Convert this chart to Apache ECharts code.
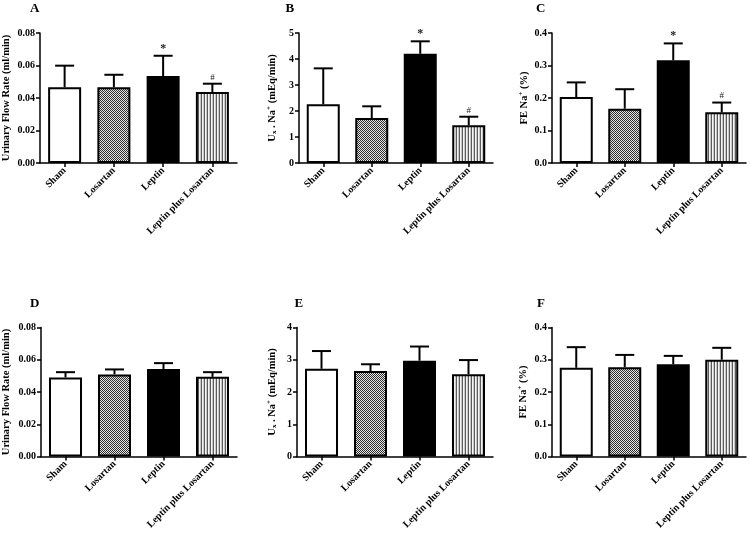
<!DOCTYPE html>
<html>
<head>
<meta charset="utf-8">
<script src="https://cdn.jsdelivr.net/npm/echarts@6/dist/echarts.min.js"></script>
<style>html,body{margin:0;padding:0;background:#fff;}#chart{width:750px;height:539px;}</style>
</head>
<body>
<div id="chart"></div>
<script>
// ---- data ----
const categories = ['Sham', 'Losartan', 'Leptin', 'Leptin plus Losartan'];
const panelLetters = ['A', 'B', 'C', 'D', 'E', 'F'];

const meanA = [0.0466, 0.0466, 0.0535, 0.0437];
const semA  = [0.0133, 0.0077, 0.0125, 0.0051];
const markA = ['', '', '*', '#'];

const meanB = [2.26, 1.73, 4.20, 1.45];
const semB  = [1.38, 0.45, 0.48, 0.33];
const markB = ['', '', '*', '#'];

const meanC = [0.203, 0.167, 0.316, 0.156];
const semC  = [0.045, 0.060, 0.052, 0.030];
const markC = ['', '', '*', '#'];

const meanD = [0.0490, 0.0509, 0.0543, 0.0494];
const semD  = [0.0033, 0.0031, 0.0036, 0.0029];
const markD = ['', '', '', ''];

const meanE = [2.72, 2.65, 2.97, 2.55];
const semE  = [0.55, 0.21, 0.44, 0.44];
const markE = ['', '', '', ''];

const meanF = [0.275, 0.277, 0.286, 0.300];
const semF  = [0.064, 0.038, 0.026, 0.037];
const markF = ['', '', '', ''];

const yMax      = [0.08, 5, 0.4, 0.08, 4, 0.4];
const yInterval = [0.02, 1, 0.1, 0.02, 1, 0.1];
const yDecimals = [2, 0, 1, 2, 0, 1];
const yNames = [
  'Urinary Flow Rate (ml/min)',
  'U{sub|x} . Na{sup|+} (mEq/min)',
  'FE Na{sup|+} (%)',
  'Urinary Flow Rate (ml/min)',
  'U{sub|x} . Na{sup|+} (mEq/min)',
  'FE Na{sup|+} (%)'
];

const means = [meanA, meanB, meanC, meanD, meanE, meanF];
const sems  = [semA, semB, semC, semD, semE, semF];
const marks = [markA, markB, markC, markD, markE, markF];

// ---- layout ----
const grids = [
  {left: 40,  top: 33,  width: 197, height: 130},
  {left: 299, top: 33,  width: 194, height: 130},
  {left: 552, top: 33,  width: 194, height: 130},
  {left: 40,  top: 327.5, width: 197, height: 129},
  {left: 297, top: 327.5, width: 196, height: 129},
  {left: 552, top: 327.5, width: 194, height: 129}
];
const nameGaps = [28, 21, 22, 29, 19, 23];
const letterPos = [[30, 2], [285.5, 2], [536, 2], [30, 297], [294.5, 297], [537, 297]];

const FONT = "'Liberation Serif', 'Times New Roman', serif";

function makePattern(kind) {
  const c = document.createElement('canvas');
  if (kind === 'checker') {
    c.width = 2; c.height = 2;
    const g = c.getContext('2d');
    g.fillStyle = '#e6e6e6'; g.fillRect(0, 0, 2, 2);
    g.fillStyle = '#2e2e2e'; g.fillRect(0, 0, 1, 1); g.fillRect(1, 1, 1, 1);
  } else {
    c.width = 3; c.height = 3;
    const g = c.getContext('2d');
    g.fillStyle = '#f4f4f4'; g.fillRect(0, 0, 3, 3);
    g.fillStyle = '#5a5a5a'; g.fillRect(0, 0, 1, 3);
    g.fillStyle = '#c8c8c8'; g.fillRect(2, 0, 1, 3);
  }
  return {image: c, repeat: 'repeat'};
}
const fills = ['#ffffff', makePattern('checker'), '#000000', makePattern('stripes')];

const title = [], gridOpt = [], xAxis = [], yAxis = [], series = [];
for (let i = 0; i < 6; i++) {
  title.push({
    text: panelLetters[i], left: letterPos[i][0], top: letterPos[i][1], padding: 0,
    textStyle: {fontFamily: FONT, fontWeight: 'bold', fontSize: 13, color: '#000'}
  });
  gridOpt.push(Object.assign({containLabel: false}, grids[i]));
  xAxis.push({
    type: 'category', gridIndex: i, data: categories,
    axisLine: {lineStyle: {color: '#000', width: 1.5}},
    axisTick: {show: true, alignWithLabel: true, length: 4, lineStyle: {color: '#000', width: 1.5}},
    axisLabel: {rotate: 45, interval: 0, margin: 6, color: '#000', fontFamily: FONT, fontWeight: 'bold', fontSize: 10}
  });
  const dec = yDecimals[i];
  yAxis.push({
    type: 'value', gridIndex: i, min: 0, max: yMax[i], interval: yInterval[i],
    splitLine: {show: false},
    axisLine: {show: true, lineStyle: {color: '#000', width: 1.5}},
    axisTick: {show: true, length: 4, lineStyle: {color: '#000', width: 1.5}},
    axisLabel: {margin: 5, color: '#000', fontFamily: FONT, fontWeight: 'bold', fontSize: 10,
      formatter: v => v.toFixed(dec)},
    name: yNames[i], nameLocation: 'middle', nameGap: nameGaps[i],
    nameTextStyle: {
      color: '#000', fontFamily: FONT, fontWeight: 'bold', fontSize: 10.5,
      rich: {
        sub: {fontFamily: FONT, fontWeight: 'bold', fontSize: 7, verticalAlign: 'bottom', padding: [4, 0, 0, 0], color: '#000'},
        sup: {fontFamily: FONT, fontWeight: 'bold', fontSize: 7, verticalAlign: 'top', padding: [0, 0, 5, 0], color: '#000'}
      }
    }
  });
  series.push({
    type: 'bar', xAxisIndex: i, yAxisIndex: i, barWidth: 33,
    data: means[i].map((v, j) => ({value: v, itemStyle: {color: fills[j]}})),
    itemStyle: {borderColor: '#000', borderWidth: 2},
    silent: true, animation: false
  });
  series.push({
    type: 'custom', xAxisIndex: i, yAxisIndex: i, z: 5, animation: false, silent: true,
    data: means[i].map((v, j) => [j, v, v + sems[i][j], marks[i][j]]),
    encode: {x: 0, y: [1, 2]},
    renderItem: function (params, api) {
      const x = api.value(0);
      const p0 = api.coord([x, api.value(1)]);
      const p1 = api.coord([x, api.value(2)]);
      const mark = marks[i][params.dataIndex];
      const half = 9.5;
      const children = [
        {type: 'line', shape: {x1: p0[0], y1: p0[1], x2: p1[0], y2: p1[1]}, style: {stroke: '#000', lineWidth: 2}},
        {type: 'line', shape: {x1: p1[0] - half, y1: p1[1], x2: p1[0] + half, y2: p1[1]}, style: {stroke: '#000', lineWidth: 2}}
      ];
      if (mark) {
        const isStar = mark === '*';
        children.push({
          type: 'text',
          style: {
            text: mark, x: p1[0], y: p1[1] - (isStar ? 1 : 2),
            align: 'center', verticalAlign: 'bottom',
            font: (isStar ? 'bold 12px ' : '9px ') + FONT, fill: '#222'
          }
        });
      }
      return {type: 'group', children: children};
    }
  });
}

const chart = echarts.init(document.getElementById('chart'), null, {renderer: 'canvas'});
chart.setOption({
  backgroundColor: '#fff',
  animation: false,
  title: title, grid: gridOpt, xAxis: xAxis, yAxis: yAxis, series: series
});
</script>
</body>
</html>
